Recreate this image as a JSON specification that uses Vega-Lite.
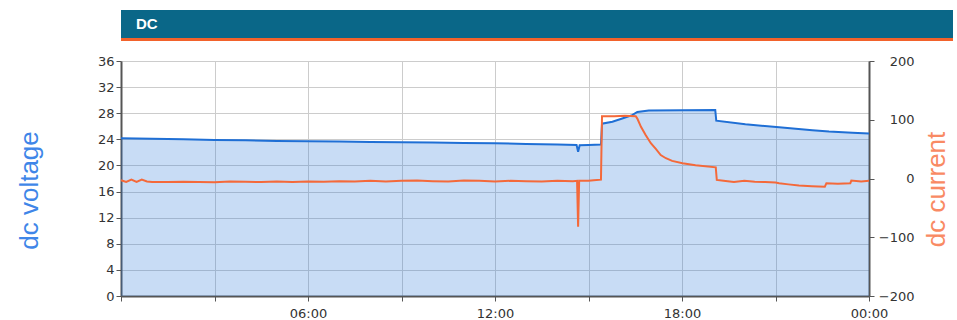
{
  "$schema": "https://vega.github.io/schema/vega-lite/v6.json",
  "background": "white",
  "padding": {"left": 8, "top": 10, "right": 0, "bottom": 0},
  "config": {"view": {"stroke": null}, "font": "DejaVu Sans"},
  "columns": 1,
  "align": "none",
  "spacing": 14,
  "datasets": {
    "voltage": [
      {"t": "2024-01-01T00:00", "v": 24.15},
      {"t": "2024-01-01T01:00", "v": 24.1},
      {"t": "2024-01-01T02:00", "v": 24.0},
      {"t": "2024-01-01T03:00", "v": 23.9},
      {"t": "2024-01-01T04:00", "v": 23.85},
      {"t": "2024-01-01T05:00", "v": 23.75},
      {"t": "2024-01-01T06:00", "v": 23.7},
      {"t": "2024-01-01T07:00", "v": 23.65},
      {"t": "2024-01-01T08:00", "v": 23.6},
      {"t": "2024-01-01T09:00", "v": 23.55},
      {"t": "2024-01-01T10:00", "v": 23.5},
      {"t": "2024-01-01T11:00", "v": 23.45},
      {"t": "2024-01-01T12:00", "v": 23.4},
      {"t": "2024-01-01T13:00", "v": 23.3},
      {"t": "2024-01-01T14:00", "v": 23.2},
      {"t": "2024-01-01T14:37", "v": 23.15},
      {"t": "2024-01-01T14:40", "v": 22.1},
      {"t": "2024-01-01T14:43", "v": 23.1},
      {"t": "2024-01-01T15:00", "v": 23.15},
      {"t": "2024-01-01T15:24", "v": 23.2},
      {"t": "2024-01-01T15:26", "v": 26.4},
      {"t": "2024-01-01T15:46", "v": 26.7},
      {"t": "2024-01-01T16:05", "v": 27.2},
      {"t": "2024-01-01T16:24", "v": 27.7},
      {"t": "2024-01-01T16:34", "v": 28.2},
      {"t": "2024-01-01T16:56", "v": 28.4},
      {"t": "2024-01-01T18:00", "v": 28.45},
      {"t": "2024-01-01T19:04", "v": 28.5},
      {"t": "2024-01-01T19:06", "v": 26.85},
      {"t": "2024-01-01T20:02", "v": 26.3},
      {"t": "2024-01-01T21:07", "v": 25.85},
      {"t": "2024-01-01T22:11", "v": 25.4},
      {"t": "2024-01-01T22:43", "v": 25.2},
      {"t": "2024-01-01T23:28", "v": 25.0},
      {"t": "2024-01-02T00:00", "v": 24.9}
    ],
    "current": [
      {"t": "2024-01-01T00:00", "i": -3},
      {"t": "2024-01-01T00:10", "i": -6},
      {"t": "2024-01-01T00:20", "i": -2},
      {"t": "2024-01-01T00:30", "i": -6},
      {"t": "2024-01-01T00:40", "i": -2},
      {"t": "2024-01-01T00:50", "i": -5},
      {"t": "2024-01-01T01:00", "i": -6},
      {"t": "2024-01-01T01:30", "i": -6},
      {"t": "2024-01-01T02:00", "i": -5.5},
      {"t": "2024-01-01T02:30", "i": -6},
      {"t": "2024-01-01T03:00", "i": -6.5},
      {"t": "2024-01-01T03:30", "i": -5},
      {"t": "2024-01-01T04:00", "i": -5.5},
      {"t": "2024-01-01T04:30", "i": -6},
      {"t": "2024-01-01T05:00", "i": -5},
      {"t": "2024-01-01T05:30", "i": -6},
      {"t": "2024-01-01T06:00", "i": -5},
      {"t": "2024-01-01T06:30", "i": -5.5},
      {"t": "2024-01-01T07:00", "i": -4.5},
      {"t": "2024-01-01T07:30", "i": -5},
      {"t": "2024-01-01T08:00", "i": -4},
      {"t": "2024-01-01T08:30", "i": -5},
      {"t": "2024-01-01T09:00", "i": -4},
      {"t": "2024-01-01T09:30", "i": -3.5},
      {"t": "2024-01-01T10:00", "i": -4.5},
      {"t": "2024-01-01T10:30", "i": -5},
      {"t": "2024-01-01T11:00", "i": -3.5},
      {"t": "2024-01-01T11:30", "i": -4},
      {"t": "2024-01-01T12:00", "i": -5},
      {"t": "2024-01-01T12:30", "i": -4},
      {"t": "2024-01-01T13:00", "i": -4.5},
      {"t": "2024-01-01T13:30", "i": -5},
      {"t": "2024-01-01T14:00", "i": -4},
      {"t": "2024-01-01T14:30", "i": -4.5},
      {"t": "2024-01-01T14:38", "i": -4},
      {"t": "2024-01-01T14:40", "i": -82},
      {"t": "2024-01-01T14:42", "i": -4},
      {"t": "2024-01-01T15:00", "i": -4},
      {"t": "2024-01-01T15:10", "i": -3},
      {"t": "2024-01-01T15:24", "i": -2},
      {"t": "2024-01-01T15:26", "i": 106},
      {"t": "2024-01-01T15:50", "i": 106},
      {"t": "2024-01-01T16:10", "i": 107},
      {"t": "2024-01-01T16:31", "i": 106},
      {"t": "2024-01-01T16:34", "i": 102},
      {"t": "2024-01-01T16:41", "i": 88},
      {"t": "2024-01-01T16:50", "i": 74},
      {"t": "2024-01-01T17:00", "i": 60},
      {"t": "2024-01-01T17:10", "i": 50},
      {"t": "2024-01-01T17:19", "i": 40},
      {"t": "2024-01-01T17:29", "i": 34.5},
      {"t": "2024-01-01T17:41", "i": 30},
      {"t": "2024-01-01T18:01", "i": 26},
      {"t": "2024-01-01T18:26", "i": 22.5},
      {"t": "2024-01-01T19:05", "i": 19},
      {"t": "2024-01-01T19:07", "i": -2.5},
      {"t": "2024-01-01T19:20", "i": -4},
      {"t": "2024-01-01T19:40", "i": -6},
      {"t": "2024-01-01T20:00", "i": -4},
      {"t": "2024-01-01T20:20", "i": -5.5},
      {"t": "2024-01-01T20:40", "i": -6},
      {"t": "2024-01-01T21:00", "i": -7},
      {"t": "2024-01-01T21:07", "i": -8},
      {"t": "2024-01-01T21:25", "i": -10},
      {"t": "2024-01-01T21:45", "i": -12},
      {"t": "2024-01-01T22:10", "i": -13},
      {"t": "2024-01-01T22:35", "i": -14},
      {"t": "2024-01-01T22:38", "i": -8},
      {"t": "2024-01-01T23:00", "i": -9},
      {"t": "2024-01-01T23:24", "i": -8},
      {"t": "2024-01-01T23:26", "i": -3.5},
      {"t": "2024-01-01T23:45", "i": -5},
      {"t": "2024-01-02T00:00", "i": -4}
    ],
    "header": [{"label": "DC"}]
  },
  "concat": [
    {
      "spacing": 0,
      "vconcat": [
        {
          "width": 832,
          "height": 28,
          "view": {"fill": "#0a6788", "stroke": null},
          "data": {"name": "header"},
          "mark": {"type": "text", "align": "left", "baseline": "middle", "dx": 15, "color": "white", "font": "Liberation Sans", "fontSize": 15, "fontWeight": "bold"},
          "encoding": {
            "x": {"field": "label", "type": "nominal", "scale": {"type": "point", "padding": 0, "align": 0}, "axis": null},
            "text": {"field": "label", "type": "nominal"}
          }
        },
        {
          "width": 832,
          "height": 3,
          "view": {"fill": "#f2622b", "stroke": null},
          "data": {"name": "header"},
          "mark": {"type": "rect", "color": "#f2622b"},
          "encoding": {}
        }
      ]
    },
    {
      "width": 748,
      "height": 235,
      "layer": [
        {
          "data": {"name": "voltage"},
          "encoding": {
            "x": {
              "field": "t", "type": "temporal",
              "scale": {"domain": [{"year": 2024, "month": 1, "date": 1, "hours": 0}, {"year": 2024, "month": 1, "date": 2, "hours": 0}]},
              "axis": {
                "title": null,
                "values": [
                  {"year": 2024, "month": 1, "date": 1, "hours": 0},
                  {"year": 2024, "month": 1, "date": 1, "hours": 3},
                  {"year": 2024, "month": 1, "date": 1, "hours": 6},
                  {"year": 2024, "month": 1, "date": 1, "hours": 9},
                  {"year": 2024, "month": 1, "date": 1, "hours": 12},
                  {"year": 2024, "month": 1, "date": 1, "hours": 15},
                  {"year": 2024, "month": 1, "date": 1, "hours": 18},
                  {"year": 2024, "month": 1, "date": 1, "hours": 21},
                  {"year": 2024, "month": 1, "date": 2, "hours": 0}
                ],
                "grid": true, "gridColor": "#cccccc",
                "labelExpr": "(hours(datum.value) % 6 == 0 && (hours(datum.value) > 0 || date(datum.value) == 2)) ? timeFormat(datum.value, '%H:%M') : ''",
                "labelFlush": false, "labelOverlap": false, "labelPadding": 6,
                "tickSize": 5, "tickColor": "#555555",
                "domainColor": "#555555", "domainWidth": 2,
                "labelFont": "DejaVu Sans", "labelFontSize": 13, "labelColor": "#333333"
              }
            },
            "y": {
              "field": "v", "type": "quantitative",
              "scale": {"domain": [0, 36], "nice": false},
              "axis": {
                "title": ["", "dc voltage"], "orient": "left",
                "values": [0, 4, 8, 12, 16, 20, 24, 28, 32, 36],
                "grid": true, "gridColor": "#cccccc",
                "tickSize": 5, "tickColor": "#555555",
                "labelPadding": 2, "labelFlush": false,
                "labelFont": "DejaVu Sans", "labelFontSize": 13, "labelColor": "#333333",
                "domainColor": "#555555", "domainWidth": 2,
                "titleColor": "#3f86e8", "titleFont": "Liberation Sans", "titleFontSize": 26, "titleFontWeight": "normal", "titleLineHeight": 8,
                "titleAngle": 270, "titleX": -100, "titleY": 129, "titleAlign": "center", "titleBaseline": "middle"
              }
            }
          },
          "layer": [
            {"mark": {"type": "area", "color": "#2373d7", "opacity": 0.25}, "encoding": {}},
            {"mark": {"type": "line", "color": "#1f6fd5", "strokeWidth": 2}, "encoding": {}}
          ]
        },
        {
          "data": {"name": "current"},
          "mark": {"type": "line", "color": "#f4693a", "strokeWidth": 2},
          "encoding": {
            "x": {"field": "t", "type": "temporal"},
            "y": {
              "field": "i", "type": "quantitative",
              "scale": {"domain": [-200, 200], "nice": false},
              "axis": {
                "title": "dc current", "orient": "right",
                "values": [-200, -100, 0, 100, 200],
                "grid": false,
                "tickSize": 5, "tickColor": "#555555",
                "labelAlign": "right", "labelPadding": 40, "labelFlush": false,
                "labelFont": "DejaVu Sans", "labelFontSize": 13, "labelColor": "#333333",
                "domainColor": "#555555", "domainWidth": 2,
                "titleColor": "#f98a63", "titleFont": "Liberation Sans", "titleFontSize": 26, "titleFontWeight": "normal",
                "titleAngle": 270, "titleX": 67.5, "titleY": 128, "titleAlign": "center", "titleBaseline": "middle"
              }
            }
          }
        }
      ],
      "resolve": {"scale": {"y": "independent"}}
    }
  ]
}
